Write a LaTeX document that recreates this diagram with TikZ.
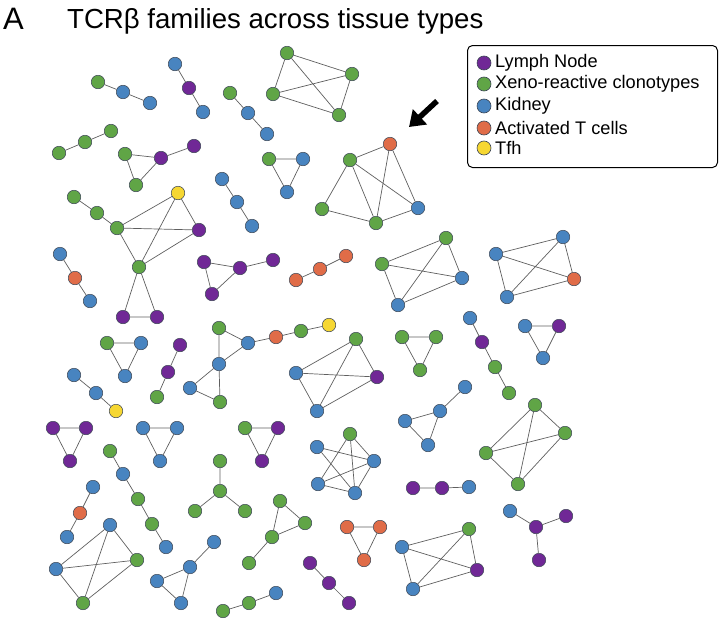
\documentclass[tikz,border=0pt]{standalone}
\usepackage{fontspec}
\setmainfont{Liberation Sans}
\usetikzlibrary{arrows.meta}
\definecolor{cP}{RGB}{112,40,150}
\definecolor{cG}{RGB}{96,165,70}
\definecolor{cB}{RGB}{72,132,192}
\definecolor{cO}{RGB}{224,108,72}
\definecolor{cY}{RGB}{246,215,50}
\definecolor{edgec}{RGB}{95,95,95}
\definecolor{rimc}{RGB}{60,70,85}
\tikzset{
  nd/.style={circle, draw=rimc, line width=0.5pt, minimum size=13.5pt, inner sep=0pt},
  nP/.style={nd, fill=cP}, nG/.style={nd, fill=cG}, nB/.style={nd, fill=cB},
  nO/.style={nd, fill=cO}, nY/.style={nd, fill=cY},
  ed/.style={draw=edgec, line width=0.7pt},
  lg/.style={circle, draw=rimc, line width=0.6pt, minimum size=14pt, inner sep=0pt},
  lgtext/.style={anchor=west, inner sep=0pt, font=\fontsize{18.2}{21}\selectfont}
}
\begin{document}
\begin{tikzpicture}[x=1pt,y=-1pt]
\useasboundingbox (0,0) rectangle (720,621);
% title
\node[anchor=base west, inner sep=0pt, font=\fontsize{31}{36}\selectfont] (lab) at (3,29) {A};
\node[anchor=base west, inner sep=0pt, font=\fontsize{27.6}{32}\selectfont] (title) at (67,28.5) {TCRβ families across tissue types};
% legend
\node[draw=black, line width=1pt, rounded corners=5pt, minimum width=250pt, minimum height=122pt, anchor=north west, inner sep=0pt] (legend) at (467,45) {};
\node[lg, fill=cP] (l1) at (484,63) {};
\node[lg, fill=cG] (l2) at (484,84) {};
\node[lg, fill=cB] (l3) at (484,106) {};
\node[lg, fill=cO] (l4) at (484,128) {};
\node[lg, fill=cY] (l5) at (484,148) {};
\node[lgtext] (t1) at (495,63) {Lymph Node};
\node[lgtext] (t2) at (495,84) {Xeno-reactive clonotypes};
\node[lgtext] (t3) at (495,106) {Kidney};
\node[lgtext] (t4) at (495,128) {Activated T cells};
\node[lgtext] (t5) at (495,148) {Tfh};
% arrow
\coordinate (ar1) at (437,101);
\coordinate (ar2) at (409,127);
\draw[line width=5.5pt, -{Triangle[length=15pt,width=20pt]}] (ar1) -- (ar2);
% nodes
\node[nG] (a1) at (98,82) {}; \node[nB] (a2) at (123,92) {}; \node[nB] (a3) at (150,103) {};
\node[nB] (b1) at (175,64) {}; \node[nP] (b2) at (189,88) {}; \node[nB] (b3) at (203,112) {};
\node[nG] (c1) at (230,93) {}; \node[nB] (c2) at (248,113) {}; \node[nB] (c3) at (267,134) {};
\node[nG] (d1) at (287,53) {}; \node[nG] (d2) at (352,74) {}; \node[nG] (d3) at (273,94) {}; \node[nG] (d4) at (339,115) {};
\node[nG] (e1) at (59,153) {}; \node[nG] (e2) at (85,142) {}; \node[nG] (e3) at (111,131) {};
\node[nG] (f1) at (125,154) {}; \node[nP] (f2) at (161,158) {}; \node[nG] (f3) at (136,185) {}; \node[nP] (f4) at (194,146) {};
\node[nB] (g1) at (222,179) {}; \node[nB] (g2) at (237,202) {}; \node[nB] (g3) at (252,226) {};
\node[nG] (h1) at (269,159) {}; \node[nB] (h2) at (303,159) {}; \node[nB] (h3) at (287,192) {};
\node[nO] (i1) at (390,144) {}; \node[nG] (i2) at (350,160) {}; \node[nG] (i3) at (322,209) {}; \node[nB] (i4) at (418,208) {}; \node[nG] (i5) at (376,223) {};
\node[nG] (j1) at (74,197) {}; \node[nG] (j2) at (97,213) {}; \node[nG] (j3) at (117,228) {}; \node[nY] (j4) at (178,193) {};
\node[nP] (j5) at (199,230) {}; \node[nG] (j6) at (139,267) {}; \node[nP] (j7) at (123,317) {}; \node[nP] (j8) at (157,317) {};
\node[nB] (k1) at (60,254) {}; \node[nO] (k2) at (75,278) {}; \node[nB] (k3) at (90,301) {};
\node[nP] (l1n) at (204,262) {}; \node[nP] (l2n) at (240,268) {}; \node[nP] (l3n) at (212,294) {}; \node[nP] (l4n) at (273,260) {};
\node[nO] (m1) at (296,280) {}; \node[nO] (m2) at (320,269) {}; \node[nO] (m3) at (346,256) {};
\node[nG] (n1) at (382,264) {}; \node[nG] (n2) at (446,238) {}; \node[nB] (n3) at (462,278) {}; \node[nB] (n4) at (398,305) {};
\node[nB] (o1) at (496,254) {}; \node[nB] (o2) at (563,237) {}; \node[nO] (o3) at (574,279) {}; \node[nB] (o4) at (507,297) {};
\node[nG] (p1) at (107,343) {}; \node[nB] (p2) at (141,343) {}; \node[nB] (p3) at (125,376) {};
\node[nP] (q1) at (180,345) {}; \node[nP] (q2) at (168,372) {}; \node[nG] (q3) at (157,397) {};
\node[nG] (r1) at (219,328) {}; \node[nB] (r2) at (248,343) {}; \node[nO] (r3) at (276,337) {}; \node[nG] (r4) at (301,331) {};
\node[nY] (r5) at (329,325) {}; \node[nB] (r6) at (219,364) {}; \node[nB] (r7) at (190,388) {}; \node[nG] (r8) at (220,402) {};
\node[nG] (s1) at (356,339) {}; \node[nB] (s2) at (296,373) {}; \node[nP] (s3) at (377,377) {}; \node[nB] (s4) at (317,411) {};
\node[nG] (t1n) at (402,337) {}; \node[nG] (t2n) at (436,337) {}; \node[nG] (t3n) at (420,370) {};
\node[nB] (u1) at (470,318) {}; \node[nP] (u2) at (482,342) {}; \node[nG] (u3) at (495,367) {}; \node[nG] (u4) at (509,393) {};
\node[nB] (v1) at (525,326) {}; \node[nP] (v2) at (559,326) {}; \node[nB] (v3) at (543,358) {};
\node[nB] (w1) at (74,375) {}; \node[nB] (w2) at (96,393) {}; \node[nY] (w3) at (116,411) {};
\node[nP] (x1) at (53,428) {}; \node[nP] (x2) at (86,428) {}; \node[nP] (x3) at (70,461) {};
\node[nB] (y1) at (143,428) {}; \node[nB] (y2) at (177,428) {}; \node[nB] (y3) at (160,461) {};
\node[nG] (z1) at (245,428) {}; \node[nP] (z2) at (278,428) {}; \node[nP] (z3) at (262,461) {};
\node[nG] (aa1) at (350,434) {}; \node[nB] (aa2) at (317,447) {}; \node[nB] (aa3) at (374,461) {}; \node[nB] (aa4) at (318,484) {}; \node[nB] (aa5) at (355,493) {};
\node[nB] (bb1) at (465,387) {}; \node[nB] (bb2) at (440,411) {}; \node[nB] (bb3) at (405,421) {}; \node[nB] (bb4) at (428,445) {};
\node[nG] (cc1) at (535,405) {}; \node[nG] (cc2) at (565,433) {}; \node[nG] (cc3) at (486,453) {}; \node[nG] (cc4) at (518,484) {};
\node[nP] (dd1) at (413,488) {}; \node[nP] (dd2) at (442,488) {}; \node[nB] (dd3) at (469,487) {};
\node[nB] (ee1) at (510,511) {}; \node[nP] (ee2) at (536,527) {}; \node[nP] (ee3) at (566,516) {}; \node[nP] (ee4) at (539,560) {};
\node[nG] (ff1) at (110,451) {}; \node[nB] (ff2) at (123,474) {}; \node[nG] (ff3) at (138,499) {}; \node[nG] (ff4) at (152,524) {}; \node[nB] (ff5) at (166,547) {};
\node[nG] (gg1) at (220,461) {}; \node[nG] (gg2) at (220,491) {}; \node[nG] (gg3) at (195,511) {}; \node[nG] (gg4) at (245,511) {};
\node[nB] (hh1) at (93,487) {}; \node[nO] (hh2) at (80,513) {}; \node[nB] (hh3) at (67,537) {};
\node[nB] (ii1) at (110,525) {}; \node[nB] (ii2) at (56,569) {}; \node[nG] (ii3) at (137,560) {}; \node[nG] (ii4) at (83,603) {};
\node[nB] (jj1) at (214,542) {}; \node[nB] (jj2) at (190,567) {}; \node[nB] (jj3) at (157,581) {}; \node[nB] (jj4) at (181,603) {};
\node[nG] (kk1) at (280,501) {}; \node[nG] (kk2) at (305,523) {}; \node[nG] (kk3) at (272,537) {}; \node[nG] (kk4) at (249,563) {};
\node[nO] (ll1) at (347,527) {}; \node[nO] (ll2) at (380,527) {}; \node[nO] (ll3) at (364,560) {};
\node[nB] (mm1) at (402,547) {}; \node[nG] (mm2) at (469,529) {}; \node[nP] (mm3) at (477,570) {}; \node[nB] (mm4) at (413,589) {};
\node[nP] (nn1) at (310,563) {}; \node[nP] (nn2) at (329,583) {}; \node[nP] (nn3) at (349,603) {};
\node[nG] (oo1) at (223,611) {}; \node[nG] (oo2) at (249,603) {}; \node[nB] (oo3) at (276,593) {};
% edges
\draw[ed] (a1) -- (a2) -- (a3);
\draw[ed] (b1) -- (b2) -- (b3);
\draw[ed] (c1) -- (c2) -- (c3);
\draw[ed] (d1) -- (d2) (d1) -- (d3) (d1) -- (d4) (d2) -- (d3) (d2) -- (d4) (d3) -- (d4);
\draw[ed] (e1) -- (e2) -- (e3);
\draw[ed] (f1) -- (f2) (f1) -- (f3) (f3) -- (f2) (f2) -- (f4);
\draw[ed] (g1) -- (g2) -- (g3);
\draw[ed] (h1) -- (h2) -- (h3) -- (h1);
\draw[ed] (i1) -- (i2) (i1) -- (i5) (i1) -- (i4) (i2) -- (i3) (i2) -- (i5) (i2) -- (i4) (i3) -- (i5) (i5) -- (i4);
\draw[ed] (j1) -- (j2) -- (j3) (j3) -- (j4) (j3) -- (j5) (j3) -- (j6) (j4) -- (j5) (j4) -- (j6) (j5) -- (j6) (j6) -- (j7) (j6) -- (j8) (j7) -- (j8);
\draw[ed] (k1) -- (k2) -- (k3);
\draw[ed] (l1n) -- (l2n) (l1n) -- (l3n) (l3n) -- (l2n) (l2n) -- (l4n);
\draw[ed] (m1) -- (m2) -- (m3);
\draw[ed] (n1) -- (n2) (n1) -- (n3) (n1) -- (n4) (n2) -- (n3) (n2) -- (n4) (n3) -- (n4);
\draw[ed] (o1) -- (o2) (o1) -- (o3) (o1) -- (o4) (o2) -- (o3) (o2) -- (o4) (o3) -- (o4);
\draw[ed] (p1) -- (p2) -- (p3) -- (p1);
\draw[ed] (q1) -- (q2) -- (q3);
\draw[ed] (r1) -- (r2) (r1) -- (r6) (r2) -- (r6) (r2) -- (r3) -- (r4) -- (r5) (r6) -- (r7) (r6) -- (r8) (r7) -- (r8);
\draw[ed] (s1) -- (s2) (s1) -- (s3) (s1) -- (s4) (s2) -- (s3) (s2) -- (s4) (s3) -- (s4);
\draw[ed] (t1n) -- (t2n) -- (t3n) -- (t1n);
\draw[ed] (u1) -- (u2) -- (u3) -- (u4);
\draw[ed] (v1) -- (v2) -- (v3) -- (v1);
\draw[ed] (w1) -- (w2) -- (w3);
\draw[ed] (x1) -- (x2) -- (x3) -- (x1);
\draw[ed] (y1) -- (y2) -- (y3) -- (y1);
\draw[ed] (z1) -- (z2) -- (z3) -- (z1);
\draw[ed] (aa1) -- (aa3) (aa1) -- (aa4) (aa1) -- (aa5) (aa2) -- (aa3) (aa2) -- (aa5) (aa4) -- (aa3) (aa4) -- (aa5) (aa3) -- (aa5);
\draw[ed] (bb1) -- (bb2) (bb2) -- (bb3) (bb2) -- (bb4) (bb3) -- (bb4);
\draw[ed] (cc1) -- (cc2) (cc1) -- (cc3) (cc1) -- (cc4) (cc2) -- (cc3) (cc2) -- (cc4) (cc3) -- (cc4);
\draw[ed] (dd1) -- (dd2) -- (dd3);
\draw[ed] (ee2) -- (ee1) (ee2) -- (ee3) (ee2) -- (ee4);
\draw[ed] (ff1) -- (ff2) -- (ff3) -- (ff4) -- (ff5);
\draw[ed] (gg2) -- (gg1) (gg2) -- (gg3) (gg2) -- (gg4);
\draw[ed] (hh1) -- (hh2) -- (hh3);
\draw[ed] (ii1) -- (ii2) (ii1) -- (ii3) (ii1) -- (ii4) (ii2) -- (ii3) (ii2) -- (ii4) (ii3) -- (ii4);
\draw[ed] (jj1) -- (jj2) (jj2) -- (jj3) (jj2) -- (jj4) (jj3) -- (jj4);
\draw[ed] (kk1) -- (kk2) (kk1) -- (kk3) (kk2) -- (kk3) (kk3) -- (kk4);
\draw[ed] (ll1) -- (ll2) -- (ll3) -- (ll1);
\draw[ed] (mm1) -- (mm2) (mm1) -- (mm3) (mm1) -- (mm4) (mm2) -- (mm3) (mm2) -- (mm4) (mm3) -- (mm4);
\draw[ed] (nn1) -- (nn2) -- (nn3);
\draw[ed] (oo1) -- (oo2) -- (oo3);
\end{tikzpicture}
\end{document}
